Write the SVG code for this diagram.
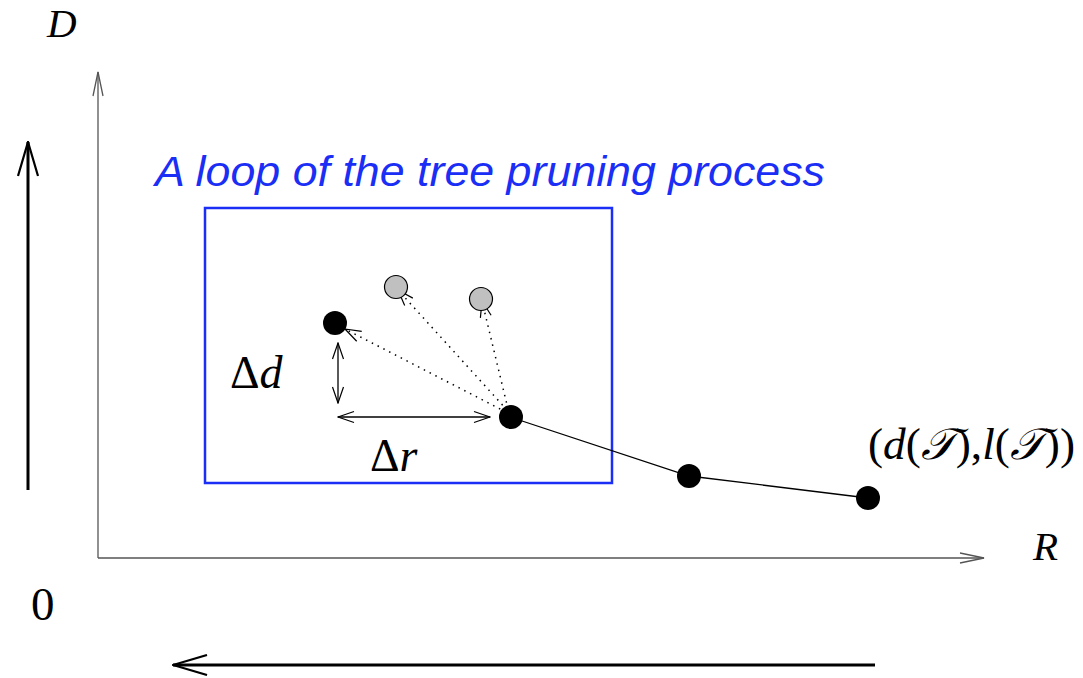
<svg xmlns="http://www.w3.org/2000/svg" width="1083" height="678" viewBox="0 0 1083 678">
  <style>
    .axis { stroke: #555; stroke-width: 1.3; fill: none; }
    .big { stroke: #000; stroke-width: 3; fill: none; }
    .thin { stroke: #000; stroke-width: 1.3; fill: none; }
    .dot { stroke: #000; stroke-width: 1.5; stroke-dasharray: 1.5 5; fill: none; }
    .math { font-family: "Liberation Serif", "DejaVu Serif", serif; fill: #000; }
    .it { font-style: italic; }
    .title { font-family: "Liberation Sans", Arial, sans-serif; font-style: italic; font-size: 43px; fill: #1a2ef5; }
  </style>
  <defs>
    <marker id="vhead" markerWidth="18" markerHeight="14" refX="17" refY="7" orient="auto-start-reverse" markerUnits="userSpaceOnUse">
      <path d="M1,1.5 L17,7 L1,12.5" fill="none" stroke="#000" stroke-width="1.2"/>
    </marker>
    <marker id="vaxis" markerWidth="26" markerHeight="12" refX="25" refY="6" orient="auto" markerUnits="userSpaceOnUse">
      <path d="M1,1 L25,6 L1,11" fill="none" stroke="#555" stroke-width="1.3"/>
    </marker>
    <marker id="vbig" markerWidth="36" markerHeight="22" refX="35" refY="11" orient="auto" markerUnits="userSpaceOnUse">
      <path d="M1,1 L35,11 L1,21" fill="none" stroke="#000" stroke-width="2.2"/>
    </marker>
  </defs>

  <!-- axes -->
  <g id="axes">
    <line class="axis" x1="98" y1="558" x2="98" y2="72" marker-end="url(#vaxis)"/>
    <line class="axis" x1="98" y1="558" x2="984" y2="558" marker-end="url(#vaxis)"/>
    <text class="math it" x="47" y="37" font-size="41">D</text>
    <text class="math it" x="1033" y="560" font-size="41">R</text>
    <text class="math" x="31" y="620" font-size="47">0</text>
  </g>

  <!-- direction arrows -->
  <g id="directions">
    <line class="big" x1="28" y1="490" x2="28" y2="142" marker-end="url(#vbig)"/>
    <line class="big" x1="875" y1="665" x2="173" y2="665" marker-end="url(#vbig)"/>
  </g>

  <!-- pruning loop box -->
  <g id="loop">
    <text class="title" x="155" y="186" textLength="670" lengthAdjust="spacingAndGlyphs">A loop of the tree pruning process</text>
    <rect x="205" y="208" width="407" height="275" fill="none" stroke="#1a2ef5" stroke-width="2.5"/>
  </g>

  <!-- connectors -->
  <g id="connectors">
    <polyline class="thin" points="510,417 689,476 868,498"/>
    <line class="dot" x1="506" y1="412" x2="345" y2="329" marker-end="url(#vhead)"/>
    <line class="dot" x1="507" y1="410" x2="398" y2="290" marker-end="url(#vhead)"/>
    <line class="dot" x1="508" y1="409" x2="482" y2="301" marker-end="url(#vhead)"/>
    <line class="thin" x1="338" y1="343" x2="338" y2="403" marker-start="url(#vhead)" marker-end="url(#vhead)"/>
    <line class="thin" x1="338" y1="417" x2="490" y2="417" marker-start="url(#vhead)" marker-end="url(#vhead)"/>
  </g>

  <!-- points -->
  <g id="p-left"><circle cx="335" cy="323" r="12" fill="#000"/></g>
  <g id="p-gray1"><circle cx="396" cy="287" r="11.5" fill="#c0c0c0" stroke="#000" stroke-width="1.2"/></g>
  <g id="p-gray2"><circle cx="481" cy="299" r="11.5" fill="#c0c0c0" stroke="#000" stroke-width="1.2"/></g>
  <g id="p-current"><circle cx="511" cy="417" r="12" fill="#000"/></g>
  <g id="p-mid"><circle cx="689" cy="476" r="12" fill="#000"/></g>
  <g id="p-end"><circle cx="868" cy="498" r="12" fill="#000"/></g>

  <!-- labels -->
  <g id="labels">
    <text class="math" x="230" y="388" font-size="46">Δ<tspan class="it">d</tspan></text>
    <text class="math" x="370" y="471" font-size="46">Δ<tspan class="it">r</tspan></text>
    <text class="math" x="868" y="459" font-size="44" textLength="207" lengthAdjust="spacingAndGlyphs">(<tspan class="it">d</tspan>(<tspan class="it">𝒯</tspan>),<tspan class="it">l</tspan>(<tspan class="it">𝒯</tspan>))</text>
  </g>
</svg>
